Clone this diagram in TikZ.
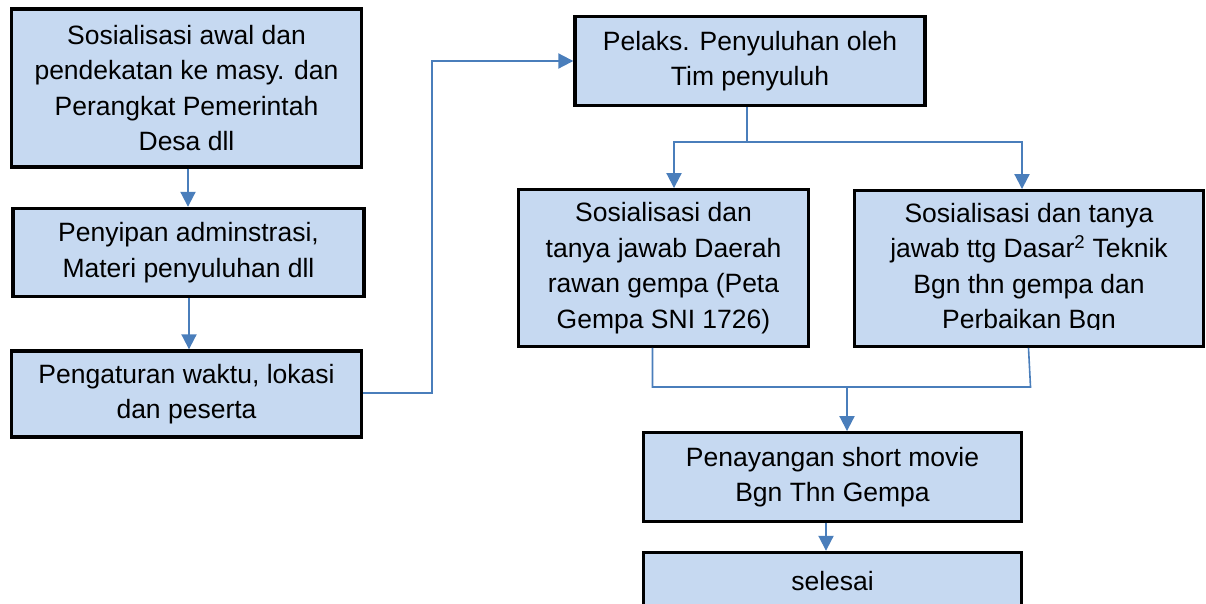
\documentclass[tikz,border=0pt]{standalone}
\usepackage{fontspec}
\setmainfont{Liberation Sans}
\usetikzlibrary{arrows.meta,calc}
\definecolor{boxfill}{HTML}{C6D9F1}
\definecolor{linkblue}{HTML}{4A7EBB}
\begin{document}
\begin{tikzpicture}[x=1pt,y=-1pt,
  box/.style={draw=black, line width=3.4pt, fill=boxfill, inner sep=0pt, align=center,
    font=\fontsize{26.5}{35.5}\selectfont},
  link/.style={draw=linkblue, line width=2pt},
  arr/.style={link, -{Triangle[length=15pt,width=15pt]}}]
\useasboundingbox (0,0) rectangle (1206,603);
\clip (0,0) rectangle (1206,603);
\node[box, minimum width=350pt, minimum height=158pt] (b1) at (186.5,88)
  {Sosialisasi awal dan\\pendekatan ke masy. dan\\Perangkat Pemerintah\\Desa dll};
\node[box, minimum width=351pt, minimum height=88pt] (b2) at (188.5,252.5)
  {Penyipan adminstrasi,\\Materi penyuluhan dll};
\node[box, minimum width=350pt, minimum height=86pt] (b3) at (186.5,394)
  {Pengaturan waktu, lokasi\\dan peserta};
\node[box, minimum width=350pt, minimum height=88.5pt] (b4) at (750,61)
  {Pelaks. Penyuluhan oleh\\Tim penyuluh};
\node[box, minimum width=289.5pt, minimum height=156.5pt] (b5) at (663.5,268)
  {Sosialisasi dan\\tanya jawab Daerah\\rawan gempa (Peta\\Gempa SNI 1726)};
\node[box, minimum width=348.5pt, minimum height=155.5pt] (b6) at (1029,268.5)
  {Sosialisasi dan tanya\\jawab ttg Dasar\textsuperscript{2} Teknik\\Bgn thn gempa dan\\Perbaikan Bgn};
\fill[boxfill] ($(b6.south west)+(4,-4)$) rectangle ($(b6.south east)+(-4,-17.5)$);
\node[box, minimum width=378pt, minimum height=88.5pt] (b7) at (832.5,477)
  {Penayangan short movie\\Bgn Thn Gempa};
\node[box, minimum width=378pt, minimum height=58pt] (b8) at (832.5,581.5)
  {selesai};
% left column
\coordinate (a1) at (188,0);
\draw[arr] (a1 |- b1.south) -- (a1 |- b2.north);
\coordinate (a2) at (189,0);
\draw[arr] (a2 |- b2.south) -- (a2 |- b3.north);
\coordinate (j1) at (432,393);
\draw[arr] (b3.east |- j1) -- (j1) |- (b4.west);
% split
\coordinate (s0) at (747,142);
\coordinate (s1) at (674,142);
\coordinate (s2) at (1022,142);
\draw[link] (s0 |- b4.south) -- (s0);
\draw[arr] (s0) -- (s1) -- (s1 |- b5.north);
\draw[arr] (s0) -- (s2) -- (s2 |- b6.north);
% merge
\coordinate (m1) at (652.5,387);
\coordinate (m2) at (1030.5,387);
\coordinate (m0) at (847,387);
\draw[link, line width=1.6pt] (m1 |- b5.south) -- (m1) -- (m2) -- (1028.5,0 |- b6.south);
\draw[arr] (m0) -- (m0 |- b7.north);
\coordinate (e1) at (826,0);
\draw[arr] (e1 |- b7.south) -- (e1 |- b8.north);
\end{tikzpicture}
\end{document}
